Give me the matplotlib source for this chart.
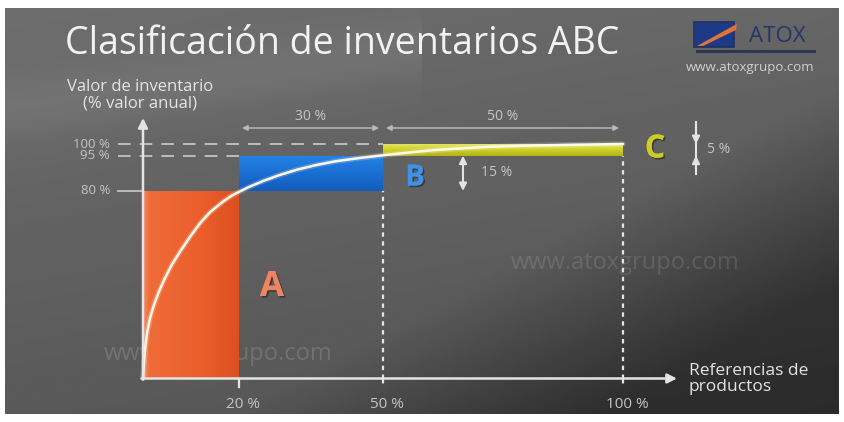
import numpy as np
import matplotlib.pyplot as plt
from matplotlib import patheffects as pe
from matplotlib.colors import LinearSegmentedColormap
from matplotlib.patches import Rectangle, Polygon

# ABC classes: share of product references vs share of annual inventory value
classes = ["A", "B", "C"]
share_products = [20, 30, 50]
share_value = [80, 15, 5]
class_colors = ["#ea5c2b", "#1b6fd3", "#c9cc22"]
letter_colors = ["#ee8460", "#3f92ea", "#cccc24"]

x_ticks = [20, 50, 100]
x_ticklabels = ["20 %", "50 %", "100 %"]
y_ticks = [80, 95, 100]
y_ticklabels = ["80 %", "95 %", "100 %"]

# cumulative value curve
curve_x = [0, 0.2, 0.5, 0.9, 1.5, 2.3, 3.3, 4.5, 6, 8, 10, 12, 14, 16.7,
           18.5, 20.2, 22, 25, 28.5, 32, 36, 40, 45, 50, 55, 60, 65, 72, 80,
           90, 100]
curve_y = [0, 7, 14, 20, 26, 31.5, 37, 42.5, 48.5, 55, 61, 66.5, 71, 75.5,
           78, 79.8, 81.6, 84.2, 86.8, 89, 91, 92.6, 94, 95.2, 96.3, 97.3,
           98, 98.8, 99.3, 99.7, 100]

starts = np.cumsum([0] + share_products[:-1])
bottoms = np.cumsum([0] + share_value[:-1])

# pixel -> data helpers (layout only)
X0, Y0, PX, PY = 143, 378.5, 4.8, 2.345
def dx(px):
    return (px - X0) / PX
def dy(py):
    return (Y0 - py) / PY

FONT = "Open Sans"
LIGHT = "#e4e4e4"
GREY = "#c4c4c4"

fig = plt.figure(figsize=(8.44, 4.22), dpi=100, facecolor="white")
ax = fig.add_axes([0, 0, 1, 1])
ax.axis("off")

# background panel
yy, xx = np.mgrid[0:1:200j, 0:1:400j]
shade = 0.43 - 0.08 * yy - 0.03 * xx
shade -= 0.15 * np.clip((xx * 0.9 + yy * 0.8 - 1.05) * 2.5, 0, 1)
shade += 0.04 * np.exp(-((yy - 0.25 + 0.3 * xx) / 0.08) ** 2) * (xx < 0.5)
ax.imshow(shade, cmap="gray", vmin=0, vmax=1, aspect="auto", zorder=0,
          extent=[dx(5), dx(838), dy(414), dy(8)])

# watermarks
for (px, py, a) in [(625, 263, 0.12), (218, 354, 0.15)]:
    ax.text(dx(px), dy(py), "www.atoxgrupo.com", color="white", alpha=a,
            fontsize=17, ha="center", va="center", family=FONT, zorder=1)

# class bars
bars = ax.bar(starts, share_value, width=share_products, bottom=bottoms,
              align="edge", color=class_colors, zorder=2, linewidth=0)
grads = [
    ([(0, "#f48c64"), (0.07, "#ef6c38"), (0.6, "#eb5e2c"), (1, "#dc5020")], True),
    ([(0, "#2582e6"), (0.5, "#1b6fd3"), (1, "#135cbc")], False),
    ([(0, "#e2e55e"), (0.45, "#cfd22a"), (1, "#b0b314")], False),
]
for bar, (cols, horiz) in zip(bars, grads):
    cmap = LinearSegmentedColormap.from_list("g", cols)
    g = np.linspace(0, 1, 256)
    img = g[None, :] if horiz else g[:, None]
    x0, y0 = bar.get_x(), bar.get_y()
    im = ax.imshow(img, cmap=cmap, aspect="auto", zorder=2.1,
                   extent=[x0, x0 + bar.get_width(), y0,
                           y0 + bar.get_height()],
                   origin="lower" if horiz else "upper")
    im.set_clip_path(bar)

# value curve
ax.plot(curve_x, curve_y, color="#fff1d8", lw=4, alpha=0.22, zorder=3,
        solid_capstyle="round")
ax.plot(curve_x, curve_y, color="#fff8ee", lw=1.8, zorder=3.1,
        solid_capstyle="round", solid_joinstyle="round")

# y tick guides and labels
for i, (yt, lab) in enumerate(zip(y_ticks, y_ticklabels)):
    ls = "-" if i == 0 else (0, (7, 5))
    ax.plot([dx(118), starts[i]], [yt, yt], color=GREY, lw=1.3, ls=ls,
            zorder=1.5)
    ax.text(dx(110), yt, lab, color=GREY, fontsize=9.5, ha="right",
            va="center", family=FONT)

# vertical dashed guides at end of B and C
for i in (1, 2):
    xe = starts[i] + share_products[i]
    ax.plot([xe, xe], [0, bottoms[i]], color=LIGHT, lw=1.6, ls=(0, (2, 2)),
            zorder=1.5)

# axes with arrow heads
arrow = dict(arrowstyle="-|>", color=LIGHT, lw=1.8, mutation_scale=14,
             shrinkA=0, shrinkB=0)
ax.annotate("", xy=(0, dy(118)), xytext=(0, -0.5), arrowprops=arrow,
            zorder=5)
ax.annotate("", xy=(dx(677), 0), xytext=(-0.3, 0), arrowprops=arrow,
            zorder=5)
ax.plot([x_ticks[0]] * 2, [0, dy(387)], color=LIGHT, lw=1.6, zorder=5)
for xt in x_ticks[1:]:
    ax.plot([xt, xt], [0, dy(387)], color=LIGHT, lw=1.6, ls=(0, (2, 2)),
            zorder=5)
for xt, lab in zip(x_ticks, x_ticklabels):
    ax.text(xt + 0.8, dy(404), lab, color=GREY, fontsize=11, ha="center",
            va="center", family=FONT)

# top dimension arrows for product shares
dim = dict(arrowstyle="<|-|>", color="#b8b8b8", lw=1.1, mutation_scale=8,
           shrinkA=0, shrinkB=0)
ydim = dy(128)
for i in (1, 2):
    a, b = starts[i] + 0.6, starts[i] + share_products[i] - 0.8
    ax.annotate("", xy=(a, ydim), xytext=(b, ydim), arrowprops=dim)
    ax.text((a + b) / 2, dy(117), f"{share_products[i]} %", color=GREY,
            fontsize=10, ha="center", va="center", family=FONT)

# value share of B (15 %)
vb = dict(arrowstyle="<|-|>", color=LIGHT, lw=1.5, mutation_scale=11,
          shrinkA=0, shrinkB=0)
ax.annotate("", xy=(dx(463), bottoms[1]), xytext=(dx(463), bottoms[2]),
            arrowprops=vb)
ax.text(dx(481), (bottoms[1] + bottoms[2]) / 2 + 0.3, f"{share_value[1]} %",
        color=GREY, fontsize=10, ha="left", va="center", family=FONT)

# value share of C (5 %), arrows pointing inward on one line
vc = dict(arrowstyle="-|>", color=LIGHT, lw=1.5, mutation_scale=11,
          shrinkA=0, shrinkB=0)
top_c = bottoms[2] + share_value[2]
ax.plot([dx(696)] * 2, [dy(122), dy(174)], color=LIGHT, lw=1.5)
ax.annotate("", xy=(dx(696), top_c), xytext=(dx(696), dy(122)),
            arrowprops=vc)
ax.annotate("", xy=(dx(696), bottoms[2]), xytext=(dx(696), dy(174)),
            arrowprops=vc)
ax.text(dx(707), (bottoms[2] + top_c) / 2, f"{share_value[2]} %",
        color=GREY, fontsize=10, ha="left", va="center", family=FONT)

# class letters
letter_pos = [(dx(272), dy(287)), (dx(415), dy(178)), (dx(655), dy(149))]
letter_size = [25, 21, 23]
for cl, (lx, ly), col, fs in zip(classes, letter_pos, letter_colors,
                                 letter_size):
    ax.text(lx, ly, cl, color=col, fontsize=fs, fontweight="bold",
            ha="center", va="center", family=FONT, zorder=6,
            path_effects=[pe.withSimplePatchShadow(offset=(1.2, -1.2),
                                                   shadow_rgbFace="#222222",
                                                   alpha=0.6), pe.Normal()])

# axis titles
ax.text(dx(140), dy(87), "Valor de inventario", color=LIGHT, fontsize=12,
        ha="center", va="center", family=FONT)
ax.text(dx(140), dy(103), "(% valor anual)", color=LIGHT, fontsize=12,
        ha="center", va="center", family=FONT)
ax.text(dx(689), dy(371), "Referencias de", color=LIGHT, fontsize=12.5,
        ha="left", va="center", family=FONT)
ax.text(dx(689), dy(387), "productos", color=LIGHT, fontsize=12.5,
        ha="left", va="center", family=FONT)

# title
ax.text(dx(65), dy(44), "Clasificación de inventarios ABC", color="#f2f2f2",
        fontsize=27, ha="left", va="center", family=FONT)

# logo
ax.add_patch(Rectangle((dx(694), dy(47)), 40 / PX, 25 / PY,
                       facecolor="#1d3a86", edgecolor="#22305e", lw=1.2,
                       zorder=2))
ax.add_patch(Polygon([(dx(697), dy(46)), (dx(733), dy(26)), (dx(737), dy(24)),
                      (dx(736), dy(30)), (dx(703), dy(46))],
                     closed=True, facecolor="#e0733a", lw=0, zorder=2.1))
ax.text(dx(777), dy(37), "ATOX", color="#25356a", fontsize=16,
        ha="center", va="center", family=FONT, zorder=3)
ax.plot([dx(697), dx(814)], [dy(51), dy(51)], color="#2c3555", lw=2.2,
        zorder=2)
ax.text(dx(750), dy(67), "www.atoxgrupo.com", color="#cfcfcf", fontsize=9.5,
        ha="center", va="center", family=FONT)

ax.set_xlim(dx(0), dx(844))
ax.set_ylim(dy(422), dy(0))
fig.savefig("out.png", dpi=100, facecolor="white")
